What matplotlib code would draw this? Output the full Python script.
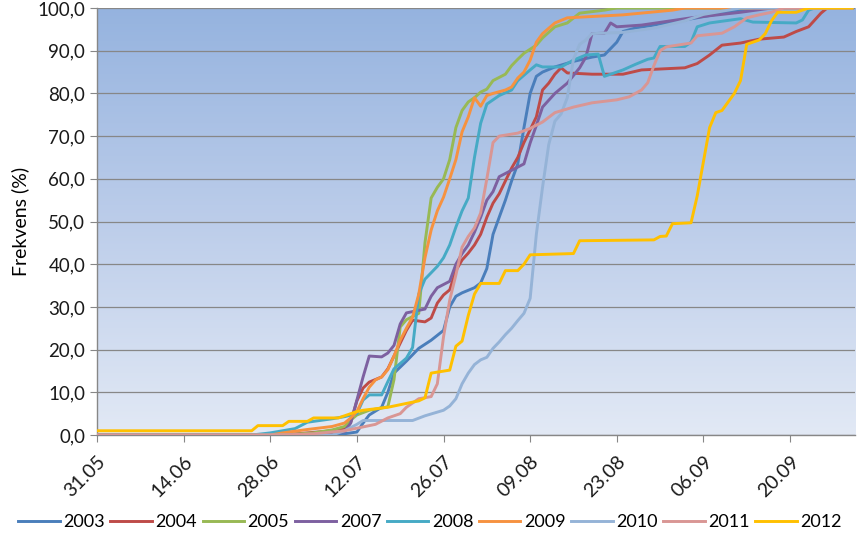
import numpy as np
import matplotlib as mpl
mpl.use("Agg")
import matplotlib.pyplot as plt
from matplotlib.colors import LinearSegmentedColormap

mpl.rcParams.update({
    "font.family": ["Lato", "DejaVu Sans"],
    "font.size": 13,
    "axes.linewidth": 1,
})

# day offsets counted from 31.05, cumulative frequency (%)
years = ["2003", "2004", "2005", "2007", "2008", "2009", "2010", "2011", "2012"]
colors = ["#4A7EBB", "#BE4B48", "#98B954", "#7D60A0", "#46AAC5",
          "#F69240", "#95B3D7", "#D99694", "#FFC000"]

days_2003 = [0, 38, 40, 42, 43, 44, 46, 47, 48, 50, 52, 54, 56, 57, 58, 59, 61, 62,
             63, 64, 65, 66, 67, 68, 69, 70, 71, 72, 74, 77, 80, 82, 84, 85, 87,
             95, 100, 104, 106, 122]
vals_2003 = [0, 0, 0.3, 0.7, 2.8, 4.7, 6.5, 10, 14.5, 17.3, 20.3, 22.2, 24.5, 30,
             32.5, 33.3, 34.5, 35.6, 39, 47, 51, 55, 59.5, 63.5, 72, 80, 84, 85,
             86.2, 87.5, 88.5, 89, 92, 94.5, 95.3, 97.2, 98.5, 99.5, 100, 100]

days_2004 = [0, 30, 34, 38, 40, 41, 42, 43, 44, 46, 47, 48, 49, 50, 51, 53, 54, 55,
             56, 57, 58, 59, 60, 61, 62, 63, 64, 65, 66, 67, 68, 69, 70, 71, 72,
             73, 74, 75, 76, 80, 85, 88, 95, 97, 99, 101, 104, 107, 111, 113, 115,
             117, 118, 122]
vals_2004 = [0, 0, 0.5, 1.0, 1.5, 3, 8, 11, 12.4, 13.6, 15.5, 18.5, 21.5, 24.5,
             26.9, 26.5, 27.4, 30.9, 32.8, 34, 38.5, 41, 42.6, 44.5, 47, 51, 54.3,
             56.5, 59.5, 62.5, 65, 68.5, 71.5, 74.5, 80.8, 82.4, 84.5, 86, 84.8,
             84.5, 84.5, 85.5, 86, 87, 89, 91.3, 91.8, 92.7, 93.2, 94.5, 95.6, 98.8,
             100, 100]

days_2005 = [0, 30, 35, 38, 40, 41, 42, 44, 47, 48, 49, 50, 52, 53, 54, 55, 56, 57,
             58, 59, 60, 61, 62, 63, 64, 66, 67, 68, 69, 71, 72, 74, 76, 78, 82,
             84, 122]
vals_2005 = [0, 0, 0.5, 1.2, 2.0, 3.5, 4.7, 5.8, 6.6, 13, 25.3, 27, 28.5, 45, 55.5,
             58, 60, 64.5, 72, 76, 78, 79, 80.3, 81, 83, 84.5, 86.5, 88, 89.4, 91.3,
             93, 95.6, 96.5, 98.8, 99.5, 100, 100]

days_2007 = [0, 33, 38, 40, 41, 42, 43, 44, 46, 47, 48, 49, 50, 53, 54, 55, 57, 58,
             59, 60, 61, 62, 63, 64, 65, 67, 69, 70, 71, 72, 74, 76, 78, 79, 80,
             82, 83, 84, 88, 96, 104, 109, 122]
vals_2007 = [0, 0, 0.3, 0.8, 2.8, 8.2, 13.6, 18.5, 18.3, 19.2, 21, 26, 28.6, 29.5,
             32.5, 34.5, 36, 40, 42.5, 44.5, 47.5, 51, 55, 57, 60.5, 62, 63.5, 68.4,
             72.5, 76.8, 80, 82.4, 86, 88.5, 94, 94.1, 96.5, 95.6, 96, 97.7, 99,
             100, 100]

days_2008 = [0, 25, 28, 32, 34, 38, 40, 42, 43, 44, 46, 47, 48, 50, 51, 52, 53, 54,
             55, 56, 57, 58, 59, 60, 61, 62, 63, 65, 67, 68, 70, 71, 72, 75, 77,
             79, 81, 82, 83, 85, 87, 89, 90, 91, 95, 96, 97, 99, 104, 106, 113,
             114, 115, 116, 122]
vals_2008 = [0, 0, 0.5, 1.5, 3, 3.8, 4.3, 5.0, 8.2, 9.4, 9.4, 12.5, 15.5, 18, 20.5,
             33, 36.5, 38, 39.5, 41.5, 44.5, 48.7, 52.5, 55.5, 65, 73, 77.5, 79.5,
             80.8, 83, 85.5, 86.7, 86.2, 86.2, 87.8, 89, 89.2, 84, 84.5, 85.5, 86.8,
             88, 88.3, 91, 91, 92, 95.6, 96.5, 97.5, 96.7, 96.5, 97.2, 99.5, 100,
             100]

days_2009 = [0, 28, 30, 34, 38, 40, 41, 42, 43, 44, 45, 46, 47, 48, 49, 50, 51, 52,
             53, 54, 55, 56, 57, 58, 59, 60, 61, 62, 63, 64, 66, 67, 68, 69, 70, 71,
             72, 74, 76, 85, 93, 95, 122]
vals_2009 = [0, 0, 0.5, 1.3, 2.0, 2.8, 4, 5.5, 8.5, 11.2, 12.9, 13.6, 15.3, 18.5,
             22.2, 25, 27.6, 33, 41.5, 48, 52.5, 55.7, 60, 64.5, 71, 74.5, 79, 77,
             79.5, 80, 80.8, 81.5, 83.6, 85, 87.8, 92, 94, 96.5, 97.7, 98.4, 99.5,
             100, 100]

days_2010 = [0, 38, 40, 42, 43, 51, 53, 56, 57, 58, 59, 60, 61, 62, 63, 64, 65, 66,
             67, 68, 69, 70, 71, 72, 73, 74, 75, 76, 77, 78, 79, 80, 85, 90, 95, 98,
             102, 104, 122]
vals_2010 = [0, 0, 1.0, 2.5, 3.4, 3.4, 4.5, 5.8, 6.8, 8.5, 12, 14.5, 16.5, 17.6,
             18.2, 20.3, 21.8, 23.5, 25, 26.8, 28.5, 32, 47, 58, 68, 73.5, 75.2, 79,
             88, 91.5, 92.5, 94, 94.3, 95.3, 97, 98.5, 99.5, 100, 100]

days_2011 = [0, 30, 35, 40, 42, 45, 47, 49, 50, 52, 54, 55, 56, 57, 58, 59, 60, 61,
             62, 63, 64, 65, 68, 70, 72, 74, 77, 80, 84, 86, 88, 89, 90, 91, 92, 96,
             97, 101, 103, 105, 107, 109, 111, 122]
vals_2011 = [0, 0, 0.3, 1.0, 1.6, 2.5, 4, 5, 6.5, 8.5, 9, 12, 23, 31.6, 37.5, 44,
             46.5, 48.5, 52, 60, 68.5, 70, 70.7, 71.8, 73.3, 75.5, 76.8, 77.8, 78.5,
             79.2, 80.8, 82.5, 86.5, 90, 90.9, 91.8, 93.5, 94.1, 95.6, 97.7, 98.4,
             99, 100, 100]

days_2012 = [0, 25, 26, 30, 31, 34, 35, 39, 42, 43, 47, 52, 53, 54, 57, 58, 59, 60,
             61, 62, 65, 66, 68, 69, 70, 77, 78, 90, 91, 92, 93, 96, 97, 98, 99,
             100, 101, 102, 103, 104, 105, 106, 107, 108, 109, 110, 113, 114, 115,
             122]
vals_2012 = [1.0, 1.0, 2.2, 2.2, 3.2, 3.2, 4.0, 4.0, 5.5, 5.8, 6.5, 8.0, 8.7, 14.5,
             15.2, 20.8, 22, 28, 33, 35.5, 35.5, 38.5, 38.5, 40, 42.2, 42.5, 45.5,
             45.7, 46.5, 46.6, 49.5, 49.7, 56, 64, 72, 75.5, 76, 78, 80, 83, 91.5,
             92, 92.5, 94, 97, 99, 99, 99.5, 100, 100]

series_days = [days_2003, days_2004, days_2005, days_2007, days_2008,
               days_2009, days_2010, days_2011, days_2012]
series_vals = [vals_2003, vals_2004, vals_2005, vals_2007, vals_2008,
               vals_2009, vals_2010, vals_2011, vals_2012]

tick_days = [0, 14, 28, 42, 56, 70, 84, 98, 112]
tick_labels = ["31.05", "14.06", "28.06", "12.07", "26.07",
               "09.08", "23.08", "06.09", "20.09"]


figure = plt.figure(figsize=(8.6, 5.38), dpi=100)
axes = figure.add_axes([0.1128, 0.1914, 0.8814, 0.7937])

# plot area gradient, darker blue at the top
gradient_cmap = LinearSegmentedColormap.from_list(
    "plotarea", ["#E2E9F5", "#BCCDEA", "#95B3DF"])
axes.imshow(np.linspace(0, 1, 256).reshape(-1, 1), cmap=gradient_cmap,
            aspect="auto", origin="lower", extent=[0, 1, 0, 1],
            transform=axes.transAxes, zorder=0)

for year, days, vals, color in zip(years, series_days, series_vals, colors):
    axes.plot(days, vals, color=color, linewidth=2.1, label=year,
              solid_joinstyle="round", zorder=3)

axes.set_xlim(0, 122.5)
axes.set_ylim(0, 100)
axes.set_yticks(np.arange(0, 101, 10))
axes.set_yticklabels(["{:.1f}".format(v).replace(".", ",")
                      for v in np.arange(0, 101, 10)])
axes.set_xticks(tick_days)
axes.set_xticklabels(tick_labels, rotation=45, ha="right",
                     rotation_mode="anchor", fontsize=14)
axes.yaxis.grid(True, color="#878787", linewidth=0.9, zorder=1)
axes.set_axisbelow(True)

for side in ["top", "right"]:
    axes.spines[side].set_visible(False)
axes.spines["left"].set_color("#878787")
axes.spines["bottom"].set_color("#878787")
axes.tick_params(axis="both", direction="out", color="#878787",
                 length=5, labelcolor="#1a1a1a")
axes.tick_params(axis="y", labelsize=13.5)
axes.tick_params(axis="x", pad=8)
axes.set_ylabel("Frekvens (%)", fontsize=14, labelpad=6)

figure.legend(loc="lower center", bbox_to_anchor=(0.5, -0.015), ncol=9,
              frameon=False, handlelength=2.3, handletextpad=0.2,
              columnspacing=0.3, fontsize=13)

plt.savefig("out.png", dpi=100)
